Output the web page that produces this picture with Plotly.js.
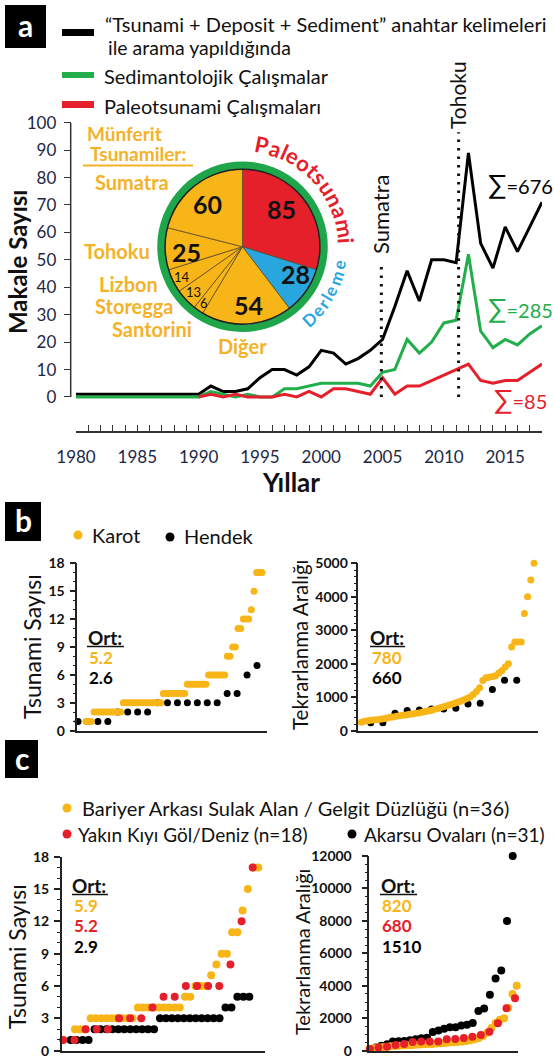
<!DOCTYPE html>
<html>
<head>
<meta charset="utf-8">
<script src="https://cdn.plot.ly/plotly-3.0.1.min.js"></script>
<style>
  body { margin: 0; background: #fff; }
  #chart { width: 554px; height: 1060px; }
</style>
</head>
<body>
<div id="chart"></div>
<script>
// --- a: yillara gore makale sayisi ---
var years = [1980, 1981, 1982, 1983, 1984, 1985, 1986, 1987, 1988, 1989, 1990, 1991, 1992,
  1993, 1994, 1995, 1996, 1997, 1998, 1999, 2000, 2001, 2002, 2003, 2004, 2005, 2006,
  2007, 2008, 2009, 2010, 2011, 2012, 2013, 2014, 2015, 2016, 2017, 2018];
var allArticles = [1, 1, 1, 1, 1, 1, 1, 1, 1, 1, 1, 4, 2, 2, 3, 7, 10, 10, 8, 11, 17, 16, 12,
  14, 17, 21, 33, 46, 35, 50, 50, 49, 89, 56, 47, 62, 53, 62, 71];
var sedimentStudies = [0, 0, 0, 0, 0, 0, 0, 0, 0, 0, 0, 2, 1, 0, 1, 0, 0, 3, 3, 4, 5, 5, 5,
  5, 4, 9, 10, 21, 16, 20, 27, 28, 52, 24, 18, 21, 19, 23, 26];
var paleoStudies = [null, null, null, null, null, null, null, null, null, null, 0, 1, 0, 1,
  0, 0, 0, 1, 0, 2, 0, 3, 3, 2, 1, 7, 1, 4, 4, 6, 8, 10, 12, 6, 5, 6, 6, 9, 12];
var totals = ['676', '285', '85'];
var eventYears = [2004.9, 2011.2];
var eventNames = ['Sumatra', 'Tohoku'];

// pasta grafigi
var pieLabels = ['Paleotsunami', 'Derleme', 'Diğer', 'Santorini', 'Storegga', 'Lizbon', 'Tohoku', 'Sumatra'];
var pieValues = [85, 28, 54, 6, 13, 14, 25, 60];

// --- b: karot / hendek ---
var karotCount = [1, 1, 1, 2, 2, 2, 2, 2, 2, 2, 2, 2, 2, 2, 3, 3, 3, 3, 3, 3, 3, 3, 3, 3, 3,
  3, 3, 3, 3, 4, 4, 4, 4, 4, 4, 4, 4, 4, 5, 5, 5, 5, 5, 5, 5, 5, 6, 6, 6, 6, 6, 6, 6, 8, 8,
  9, 9, 11, 11, 12, 12, 12, 13, 15, 17, 17, 17];
var hendekCount = [1, 1, 1, 1, 2, 2, 2, 2, 3, 3, 3, 3, 3, 3, 3, 4, 4, 6, 7];
var karotInterval = [200, 250, 280, 300, 310, 320, 330, 340, 360, 380, 400, 410, 430, 450,
  460, 470, 490, 500, 520, 530, 550, 570, 590, 610, 640, 660, 690, 720, 750, 780, 810, 850,
  880, 920, 960, 1010, 1080, 1170, 1280, 1500, 1580, 1600, 1620, 1640, 1720, 1800, 1900,
  2000, 2500, 2650, 2650, 2650, 3500, 4000, 4500, 5000];
var hendekInterval = [240, 240, 520, 600, 620, 650, 650, 670, 800, 820, 1230, 1510, 1510];
var meansB = [['5.2', '2.6'], ['780', '660']];

// --- c: ortam turleri ---
var wetlandCount = [2, 2, 2, 3, 3, 3, 3, 3, 3, 3, 3, 3, 4, 4, 4, 4, 4, 4, 4, 4, 4, 5, 5, 6,
  6, 6, 7, 8, 9, 9, 11, 11, 13, 15, 17, 17];
var lakeCount = [1, 1, 2, 2, 2, 3, 3, 3, 4, 5, 5, 6, 6, 6, 6, 8, 12, 17];
var riverCount = [1, 1, 1, 1, 2, 2, 2, 2, 2, 2, 2, 2, 2, 2, 2, 3, 3, 3, 3, 3, 3, 3, 3, 3, 3,
  3, 4, 4, 5, 5, 5];
var wetlandInterval = [100, 150, 200, 220, 250, 270, 290, 300, 320, 330, 340, 360, 380, 400,
  410, 420, 440, 460, 480, 500, 520, 540, 570, 600, 640, 700, 780, 900, 1100, 1400, 1700,
  1900, 2000, 2650, 3500, 4000];
var lakeInterval = [100, 200, 250, 350, 410, 540, 560, 560, 560, 700, 720, 780, 860, 970,
  1170, 1690, 2610, 3230];
var riverInterval = [100, 200, 300, 400, 560, 580, 600, 640, 700, 760, 800, 1150, 1250, 1350,
  1450, 1450, 1550, 1600, 1700, 2450, 2600, 3450, 4450, 4950, 8000, 12000];
var meansC = [['5.9', '5.2', '2.9'], ['820', '680', '1510']];
var legendC = ['Bariyer Arkası Sulak Alan / Gelgit Düzlüğü (n=36)', 'Yakın Kıyı Göl/Deniz (n=18)', 'Akarsu Ovaları (n=31)'];

var BLACK = '#000000', GREEN = '#22ae4b', RED = '#e5202a', BLUE = '#2aa6de', YELLOW = '#f8b517';
var LABEL_YEL = '#f4b229';
var TXT = 20;

var W = 554, H = 1060;
function px(x) { return x / W; }
function py(y) { return 1 - y / H; }
function rank(arr) { return arr.map(function (v, i) { return i + 1; }); }
// rank 1 -> firstPx, rank n -> lastPx inside a domain d0..d1
function rankRange(n, firstPx, lastPx, d0, d1) {
  var s = (lastPx - firstPx) / (n - 1);
  return [1 - (firstPx - d0) / s, n + (d1 - lastPx) / s];
}

var annotations = [];
var shapes = [];
function note(text, x, y, opts) {
  var a = { text: text, x: px(x), y: py(y), xref: 'paper', yref: 'paper', showarrow: false,
    xanchor: 'center', yanchor: 'middle', font: { size: TXT, color: '#111' } };
  for (var k in opts) a[k] = opts[k];
  annotations.push(a);
}
function rect(x0, y0, x1, y1, color) {
  shapes.push({ type: 'rect', xref: 'paper', yref: 'paper', x0: px(x0), x1: px(x1), y0: py(y1), y1: py(y0),
    fillcolor: color, line: { width: 0 }, layer: 'above' });
}
function hline(x0, x1, y, color, w) {
  shapes.push({ type: 'line', xref: 'paper', yref: 'paper', x0: px(x0), x1: px(x1), y0: py(y), y1: py(y),
    line: { color: color, width: w }, layer: 'above' });
}
function dot(x, y, r, color) {
  shapes.push({ type: 'circle', xref: 'paper', yref: 'paper', x0: px(x - r), x1: px(x + r), y0: py(y + r), y1: py(y - r),
    fillcolor: color, line: { width: 0 }, layer: 'above' });
}
function panelBox(letter, x0, y0, x1, y1) {
  rect(x0, y0, x1, y1, '#000');
  note(letter, (x0 + x1) / 2, (y0 + y1) / 2 - 1, { font: { size: 30, color: '#fff', weight: 700 } });
}
// letters along the ring of the pie
var charW = { P: .6, a: .53, l: .26, e: .53, o: .57, t: .37, s: .44, u: .57, n: .57, m: .85, i: .26, D: .68, r: .38 };
function arcText(str, cx, cy, r, th0, th1, size, color, inward) {
  var w = str.split('').map(function (c) { return charW[c] || .55; });
  var pos = [], acc = 0;
  for (var i = 0; i < w.length; i++) { pos.push(acc + w[i] / 2); acc += w[i]; }
  var p0 = pos[0], p1 = pos[pos.length - 1];
  str.split('').forEach(function (c, i) {
    var th = th0 + (th1 - th0) * (pos[i] - p0) / (p1 - p0);
    var rad = th * Math.PI / 180;
    note(c, cx + r * Math.sin(rad), cy - r * Math.cos(rad), {
      textangle: inward ? th - 180 : th, font: { size: size, color: color, weight: 700 } });
  });
}

var traces = [];

// ---------- a ----------
traces.push({ x: years, y: allArticles, type: 'scatter', mode: 'lines', xaxis: 'x', yaxis: 'y',
  line: { color: BLACK, width: 3 }, hoverinfo: 'skip' });
traces.push({ x: years, y: sedimentStudies, type: 'scatter', mode: 'lines', xaxis: 'x', yaxis: 'y',
  line: { color: GREEN, width: 3 }, hoverinfo: 'skip' });
traces.push({ x: years, y: paleoStudies, type: 'scatter', mode: 'lines', xaxis: 'x', yaxis: 'y',
  line: { color: RED, width: 3 }, hoverinfo: 'skip' });

var pieCx = 242.5, pieCy = 246.7, pieR = 77.5;
traces.push({ type: 'pie', labels: pieLabels, values: pieValues, sort: false, direction: 'clockwise',
  rotation: 0, textinfo: 'none', hoverinfo: 'skip', showlegend: false,
  marker: { colors: [RED, BLUE, YELLOW, YELLOW, YELLOW, YELLOW, YELLOW, YELLOW], line: { color: '#5a4a2a', width: 0.8 } },
  domain: { x: [px(pieCx - pieR), px(pieCx + pieR)], y: [py(pieCy + pieR), py(pieCy - pieR)] } });

// ---------- b ----------
traces.push({ x: rank(hendekCount), y: hendekCount, type: 'scatter', mode: 'markers', xaxis: 'x2', yaxis: 'y2',
  marker: { color: BLACK, size: 7 }, cliponaxis: false, hoverinfo: 'skip' });
traces.push({ x: rank(karotCount), y: karotCount, type: 'scatter', mode: 'markers', xaxis: 'x3', yaxis: 'y2',
  marker: { color: YELLOW, size: 7 }, cliponaxis: false, hoverinfo: 'skip' });
traces.push({ x: rank(hendekInterval), y: hendekInterval, type: 'scatter', mode: 'markers', xaxis: 'x4', yaxis: 'y3',
  marker: { color: BLACK, size: 7 }, cliponaxis: false, hoverinfo: 'skip' });
traces.push({ x: rank(karotInterval), y: karotInterval, type: 'scatter', mode: 'markers', xaxis: 'x5', yaxis: 'y3',
  marker: { color: YELLOW, size: 7 }, cliponaxis: false, hoverinfo: 'skip' });

// ---------- c ----------
traces.push({ x: rank(riverCount), y: riverCount, type: 'scatter', mode: 'markers', xaxis: 'x6', yaxis: 'y4',
  marker: { color: BLACK, size: 8 }, cliponaxis: false, hoverinfo: 'skip' });
traces.push({ x: rank(wetlandCount), y: wetlandCount, type: 'scatter', mode: 'markers', xaxis: 'x7', yaxis: 'y4',
  marker: { color: YELLOW, size: 8 }, cliponaxis: false, hoverinfo: 'skip' });
traces.push({ x: rank(lakeCount), y: lakeCount, type: 'scatter', mode: 'markers', xaxis: 'x8', yaxis: 'y4',
  marker: { color: RED, size: 8 }, cliponaxis: false, hoverinfo: 'skip' });
traces.push({ x: rank(riverInterval), y: riverInterval, type: 'scatter', mode: 'markers', xaxis: 'x9', yaxis: 'y5',
  marker: { color: BLACK, size: 8 }, cliponaxis: false, hoverinfo: 'skip' });
traces.push({ x: rank(wetlandInterval), y: wetlandInterval, type: 'scatter', mode: 'markers', xaxis: 'x10', yaxis: 'y5',
  marker: { color: YELLOW, size: 8 }, cliponaxis: false, hoverinfo: 'skip' });
traces.push({ x: rank(lakeInterval), y: lakeInterval, type: 'scatter', mode: 'markers', xaxis: 'x11', yaxis: 'y5',
  marker: { color: RED, size: 8 }, cliponaxis: false, hoverinfo: 'skip' });

// ---------- axes ----------
function baseX(d0, d1, yName, range) {
  return { domain: [px(d0), px(d1)], anchor: yName, range: range, showline: true, linecolor: '#222',
    linewidth: 1.5, ticks: '', showticklabels: false, showgrid: false, zeroline: false, fixedrange: true };
}
function overX(base, yName, range) {
  return { overlaying: base, anchor: yName, range: range, visible: false, fixedrange: true };
}
function dotY(top, bottom, xName, range, dtick, minor, standoff) {
  return { domain: [py(bottom), py(top)], anchor: xName, range: range, showline: true, linecolor: '#222',
    linewidth: 1.5, ticks: 'outside', ticklen: 6, tickwidth: 1.5, tickcolor: '#222', tick0: 0, dtick: dtick,
    tickformat: 'd', ticklabelstandoff: standoff,
    minor: { dtick: minor, ticks: 'outside', ticklen: 3, tickwidth: 1, tickcolor: '#222' },
    tickfont: { size: 14, color: '#111', weight: 700 }, showgrid: false, zeroline: false, fixedrange: true };
}

var layout = {
  width: W, height: H, margin: { l: 0, r: 0, t: 0, b: 0 },
  paper_bgcolor: '#fff', plot_bgcolor: 'rgba(0,0,0,0)', showlegend: false,
  font: { family: 'Lato, sans-serif', color: '#111' },
  xaxis: { domain: [px(76), px(542)], anchor: 'y', range: [1980, 2018], showline: true, linecolor: '#333',
    linewidth: 1.5, ticks: 'inside', ticklen: 6, tickwidth: 1.2, tickcolor: '#333', tick0: 1980, dtick: 5,
    minor: { dtick: 1, ticks: 'inside', ticklen: 6, tickwidth: 1.2, tickcolor: '#333' },
    tickfont: { size: 17, color: '#1c2748' }, ticklabelstandoff: 10, showgrid: false, zeroline: false, fixedrange: true },
  yaxis: { domain: [py(431), py(122.7)], anchor: 'free', position: px(70.7), range: [-12.4, 100],
    tickvals: [0, 10, 20, 30, 40, 50, 60, 70, 80, 90, 100], ticks: 'outside', ticklen: 7, tickwidth: 1.2,
    tickcolor: '#333', showline: false, tickfont: { size: 17, color: '#1c2748' }, ticklabelstandoff: 4,
    showgrid: false, zeroline: false, fixedrange: true },

  xaxis2: baseX(77.3, 267, 'y2', rankRange(hendekCount.length, 78, 257, 77.3, 267)),
  xaxis3: overX('x2', 'y2', rankRange(karotCount.length, 86, 262, 77.3, 267)),
  yaxis2: dotY(563.3, 730.7, 'x2', [0, 18], 3, 1, 2),

  xaxis4: baseX(358.3, 538, 'y3', rankRange(hendekInterval.length, 370.7, 516.7, 358.3, 538)),
  xaxis5: overX('x4', 'y3', rankRange(karotInterval.length, 358, 534, 358.3, 538)),
  yaxis3: dotY(563.3, 730.7, 'x4', [0, 5000], 1000, 200, 0),

  xaxis6: baseX(61.7, 265, 'y4', rankRange(riverCount.length, 70.7, 249.3, 61.7, 265)),
  xaxis7: overX('x6', 'y4', rankRange(wetlandCount.length, 75, 258.3, 61.7, 265)),
  xaxis8: overX('x6', 'y4', rankRange(lakeCount.length, 63.3, 252.7, 61.7, 265)),
  yaxis4: dotY(856.7, 1050.7, 'x6', [0, 18], 3, 1, 2),

  xaxis9: baseX(369.3, 518, 'y5', rankRange(riverInterval.length, 370, 512.7, 369.3, 518)),
  xaxis10: overX('x9', 'y5', rankRange(wetlandInterval.length, 369.3, 516.7, 369.3, 518)),
  xaxis11: overX('x9', 'y5', rankRange(lakeInterval.length, 370, 515, 369.3, 518)),
  yaxis5: dotY(856, 1050.7, 'x9', [0, 12000], 2000, 500, 7)
};

// ---------- a: decorations ----------
panelBox('a', 5, 5, 46, 48);
rect(62, 29, 94, 36, BLACK);
rect(62, 72, 94, 78, GREEN);
rect(62, 101, 94, 108, RED);
note('“Tsunami + Deposit + Sediment” anahtar kelimeleri', 102.5, 24, { xanchor: 'left' });
note('ile arama yapıldığında', 106, 47, { xanchor: 'left', font: { size: 19.5, color: '#111' } });
note('Sedimantolojik Çalışmalar', 102, 76, { xanchor: 'left' });
note('Paleotsunami Çalışmaları', 102, 106, { xanchor: 'left' });

// y ekseni cizgisi sadece 0-100
shapes.push({ type: 'line', xref: 'paper', yref: 'y', x0: px(70.7), x1: px(70.7), y0: 0, y1: 100,
  line: { color: '#333', width: 1.5 } });
eventYears.forEach(function (yr, i) {
  shapes.push({ type: 'line', xref: 'x', yref: 'y', x0: yr, x1: yr, y0: 0, y1: i === 0 ? 48 : 96.5,
    line: { color: '#111', width: 3, dash: '2.5px,6px' } });
});
note(eventNames[0], 380, 214, { textangle: -90, font: { size: 22, color: '#111' } });
note(eventNames[1], 457, 95, { textangle: -90, font: { size: 21, color: '#111' } });
note('Makale Sayısı', 17, 262, { textangle: -90, font: { size: 24, color: '#111', weight: 700 } });
note('Yıllar', 291, 482, { font: { size: 26, color: '#111', weight: 700 } });

var sigma = '<span style="font-size:27px">∑</span>=';
note(sigma + totals[0], 520, 184, { font: { size: 20, color: BLACK } });
note(sigma + totals[1], 520, 307, { font: { size: 20, color: GREEN } });
note(sigma + totals[2], 520, 398, { font: { size: 20, color: RED } });

// pasta halkasi ve etiketleri
shapes.push({ type: 'circle', xref: 'paper', yref: 'paper', layer: 'above',
  x0: px(pieCx - 81.5), x1: px(pieCx + 81.5), y0: py(pieCy + 81.5), y1: py(pieCy - 81.5),
  line: { color: '#1fa64a', width: 7.5 } });
shapes.push({ type: 'circle', xref: 'paper', yref: 'paper', layer: 'above',
  x0: px(pieCx - pieR), x1: px(pieCx + pieR), y0: py(pieCy + pieR), y1: py(pieCy - pieR),
  line: { color: '#222', width: 1.5 } });
var pieTextPos = [[281, 209, 25, 700], [295, 274, 25, 700], [248, 305, 25, 700], [204, 303, 13, 400],
  [193, 292, 13, 400], [182, 277, 13, 400], [186, 252, 25, 700], [207, 204, 25, 700]];
pieValues.forEach(function (v, i) {
  var p = pieTextPos[i];
  note(String(v), p[0], p[1], { font: { size: p[2], color: '#111', weight: p[3] } });
});
var lab = { size: 20, color: LABEL_YEL, weight: 700 };
note('Münferit', 124, 134, { font: { size: 19, color: LABEL_YEL, weight: 700 } });
note('Tsunamiler:', 137.5, 154, { font: { size: 19, color: LABEL_YEL, weight: 700 } });
hline(83, 193, 165.5, LABEL_YEL, 2);
note(pieLabels[7], 132, 182, { font: lab });
note(pieLabels[6], 117, 251, { font: lab });
note(pieLabels[5], 128, 284, { font: lab });
note(pieLabels[4], 134, 306, { font: lab });
note(pieLabels[3], 152, 329, { font: lab });
note(pieLabels[2], 242, 346, { font: lab });
arcText(pieLabels[0], pieCx, pieCy, 104, 11, 87, 22, RED, false);
arcText(pieLabels[1], pieCx, pieCy, 98.5, 137.4, 100.6, 17, BLUE, true);

// ---------- b: decorations ----------
panelBox('b', 5, 502, 41, 541);
dot(78, 535, 4.5, YELLOW);
note('Karot', 90, 535, { xanchor: 'left' });
dot(170, 537, 4.5, BLACK);
note('Hendek', 182, 536, { xanchor: 'left' });
note('Tsunami Sayısı', 32, 647, { textangle: -90, font: { size: 23, color: '#111' } });
note('Tekrarlanma Aralığı', 300, 645, { textangle: -90, font: { size: 20.5, color: '#111' } });
function ortBlock(x, y, x0, x1, vals, colors) {
  note('Ort:', x, y, { font: { size: 19, color: '#111', weight: 700 } });
  hline(x0, x1, y + 9.5, '#111', 1.5);
  vals.forEach(function (v, i) {
    note(v, x0, y + 20 + i * 20.5, { xanchor: 'left', font: { size: 17, color: colors[i], weight: 700 } });
  });
}
ortBlock(105, 637, 87, 124, meansB[0], [YELLOW, BLACK]);
ortBlock(387, 637, 370, 405, meansB[1], [YELLOW, BLACK]);

// ---------- c: decorations ----------
panelBox('c', 5, 740, 38, 778);
dot(67, 808, 4.5, YELLOW);
note(legendC[0], 79.5, 808, { xanchor: 'left' });
dot(67, 834, 4.5, RED);
note(legendC[1], 76, 834, { xanchor: 'left', font: { size: 19, color: '#111' } });
dot(352, 834, 4.5, BLACK);
note(legendC[2], 362, 834, { xanchor: 'left', font: { size: 19, color: '#111' } });
note('Tsunami Sayısı', 17, 957, { textangle: -90, font: { size: 23, color: '#111' } });
note('Tekrarlanma Aralığı', 302, 952, { textangle: -90, font: { size: 20, color: '#111' } });
ortBlock(89, 885, 72, 108, meansC[0], [YELLOW, RED, BLACK]);
ortBlock(398, 885, 380, 417, meansC[1], [YELLOW, RED, BLACK]);

layout.annotations = annotations;
layout.shapes = shapes;

Plotly.newPlot('chart', traces, layout, { displayModeBar: false, responsive: false });
</script>
</body>
</html>
